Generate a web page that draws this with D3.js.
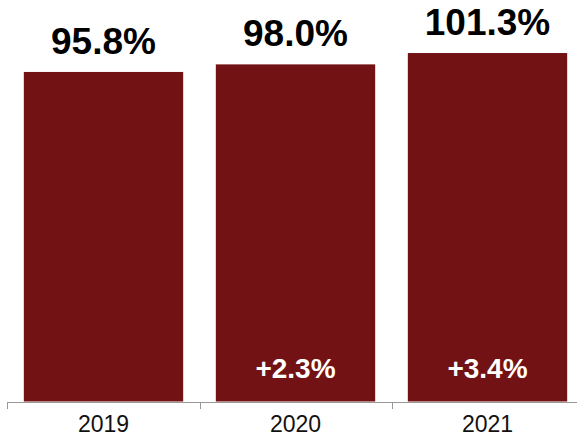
<!DOCTYPE html>
<html>
<head>
<meta charset="utf-8">
<script src="https://cdn.jsdelivr.net/npm/d3@7"></script>
<style>
  html, body { margin: 0; padding: 0; background: #fff; }
  svg { display: block; }
  text { font-family: "Liberation Sans", Arial, Helvetica, sans-serif; }
</style>
</head>
<body>
<svg id="chart" width="577" height="438"></svg>
<script>
// Ratio by year, with the change against the previous year
const years = ["2019", "2020", "2021"];
const ratios = [95.8, 98.0, 101.3];
const changes = [null, 2.3, 3.4];

const width = 577, height = 438;
const baseline = 401.5;

const svg = d3.select("#chart");

const x = d3.scaleBand()
  .domain(years)
  .range([7.5, 583.5])
  .paddingInner(0.17)
  .paddingOuter(0.085);

const y = d3.scaleLinear()
  .domain([0, 100])
  .range([baseline, baseline - 344]);

const data = years.map((yr, i) => ({ year: yr, ratio: ratios[i], change: changes[i] }));

// Bars
svg.append("g")
  .selectAll("rect")
  .data(data)
  .join("rect")
  .attr("x", d => x(d.year))
  .attr("y", d => y(d.ratio))
  .attr("width", x.bandwidth())
  .attr("height", d => y(0) - y(d.ratio))
  .attr("fill", "#731214");

// Value labels above bars
svg.append("g")
  .selectAll("text")
  .data(data)
  .join("text")
  .attr("x", d => x(d.year) + x.bandwidth() / 2)
  .attr("y", d => y(d.ratio) - 18)
  .attr("text-anchor", "middle")
  .attr("font-size", 37)
  .attr("font-weight", "bold")
  .attr("fill", "#000")
  .text(d => d.ratio.toFixed(1) + "%");

// Year-over-year change inside the bars
svg.append("g")
  .selectAll("text")
  .data(data.filter(d => d.change !== null))
  .join("text")
  .attr("x", d => x(d.year) + x.bandwidth() / 2)
  .attr("y", 378)
  .attr("text-anchor", "middle")
  .attr("font-size", 28)
  .attr("font-weight", "bold")
  .attr("fill", "#fff")
  .text(d => "+" + d.change.toFixed(1) + "%");

// Category axis with ticks on band boundaries
const axis = svg.append("g").attr("class", "x-axis");
const step = x.step();
const half = step * x.paddingInner() / 2;
const [r0, r1] = x.range();

axis.append("line")
  .attr("x1", r0).attr("x2", r1)
  .attr("y1", 402.5).attr("y2", 402.5)
  .attr("stroke", "#999").attr("stroke-width", 1);

const boundaries = years.map(yr => x(yr) - half).concat([x(years[years.length - 1]) + x.bandwidth() + half]);
axis.selectAll("line.tick")
  .data(boundaries)
  .join("line")
  .attr("class", "tick")
  .attr("x1", d => Math.round(d) + 0.5).attr("x2", d => Math.round(d) + 0.5)
  .attr("y1", 402).attr("y2", 409)
  .attr("stroke", "#999").attr("stroke-width", 1);

axis.selectAll("text")
  .data(years)
  .join("text")
  .attr("x", d => x(d) + x.bandwidth() / 2)
  .attr("y", 432)
  .attr("text-anchor", "middle")
  .attr("font-size", 23)
  .attr("fill", "#111")
  .text(d => d);
</script>
</body>
</html>
